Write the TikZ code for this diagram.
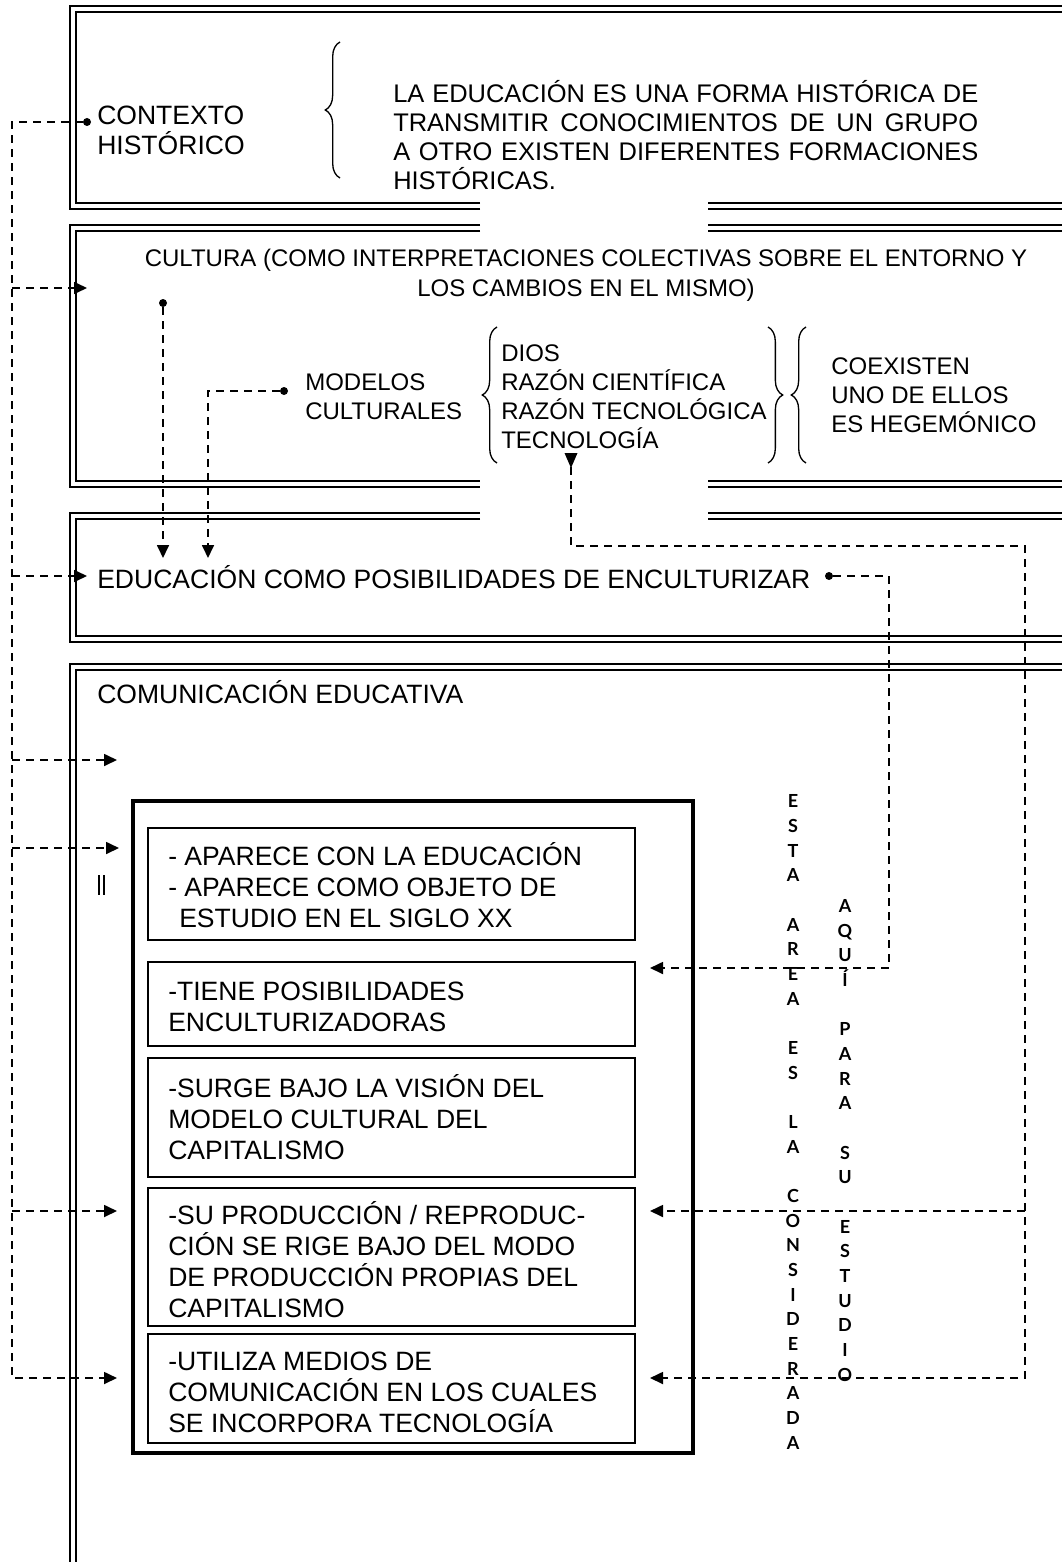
\documentclass[tikz,border=0pt]{standalone}
\usepackage{fontspec}
\setmainfont{Liberation Sans}
\newfontfamily\letterfont{Lato}
\usetikzlibrary{arrows.meta,decorations.pathreplacing}

\tikzset{
  dashline/.style={line width=1.3pt, dash pattern=on 6pt off 4.5pt},
  arrowto/.style={-{Triangle[length=9.75pt,width=9pt]}},
  dot/.style={circle, fill=black, inner sep=0pt, minimum size=6pt},
  frameout/.style={line width=1.05pt},
  framein/.style={line width=1.95pt},
  lbl/.style={font=\fontsize{18}{21.75}\selectfont, inner sep=0pt, align=left},
  biglbl/.style={font=\fontsize{19.9}{22.5}\selectfont, inner sep=0pt, align=left},
  deftxt/.style={font=\fontsize{19.1}{21.75}\selectfont, inner sep=0pt, align=left},
  itemtxt/.style={font=\fontsize{19.9}{23.25}\selectfont, inner sep=0pt, align=left},
  vtxt/.style={font=\letterfont\bfseries\fontsize{13.5}{18.5}\selectfont, inner sep=0pt, align=center},
  curly/.style={decorate, decoration={brace, amplitude=11pt}, line width=1pt},
}

\begin{document}
\begin{tikzpicture}[x=0.75pt,y=0.75pt,yscale=-1,xscale=1]
\useasboundingbox (0,0) rectangle (1062,1562);

%Shape: Frame 1 (contexto)
\draw [frameout] (480,209) -- (70,209) -- (70,6) -- (1075,6) ;
\draw [frameout] (708,209) -- (1075,209) ;
\draw [framein] (480,203) -- (76,203) -- (76,12) -- (1075,12) ;
\draw [framein] (708,203) -- (1075,203) ;
%Shape: Frame 2 (cultura)
\draw [frameout] (480,225) -- (70,225) -- (70,487) -- (480,487) ;
\draw [frameout] (708,225) -- (1075,225) (708,487) -- (1075,487) ;
\draw [framein] (480,231) -- (76,231) -- (76,481) -- (480,481) ;
\draw [framein] (708,231) -- (1075,231) (708,481) -- (1075,481) ;
%Shape: Frame 3 (educacion)
\draw [frameout] (480,513) -- (70,513) -- (70,642) -- (1075,642) ;
\draw [frameout] (708,513) -- (1075,513) ;
\draw [framein] (480,519) -- (76,519) -- (76,636) -- (1075,636) ;
\draw [framein] (708,519) -- (1075,519) ;
%Shape: Frame 4 (comunicacion)
\draw [frameout] (1075,664) -- (70,664) -- (70,1575) ;
\draw [framein] (1075,670) -- (76,670) -- (76,1575) ;
%Straight Lines (small mark)
\draw [line width=0.8pt] (99,875) -- (99,895) (104,875) -- (104,895) ;

%Shape: Rectangle (outer box)
\draw [line width=2.6pt] (133,801) rectangle (693,1453) ;
%Shape: Rectangles (items)
\foreach \ya/\yb in {828/940, 962/1046, 1058/1177, 1188/1326, 1334/1443}
  \draw [line width=1.5pt] (148,\ya) rectangle (635,\yb) ;

%Braces
\draw [curly] (340,178) -- (340,42) ;
\draw [curly] (497,463) -- (497,327) ;
\draw [curly] (768,327) -- (768,463) ;
\draw [curly] (806,463) -- (806,327) ;

% Text Node
\node [biglbl, anchor=base west] (ctx) at (97,155) {CONTEXTO\\HISTÓRICO};
% Text Node
\node [deftxt, anchor=base west] (defn) at (393,190) {\makebox[438.75pt][s]{LA EDUCACIÓN ES UNA FORMA HISTÓRICA DE}\\\makebox[438.75pt][s]{TRANSMITIR CONOCIMIENTOS DE UN GRUPO}\\\makebox[438.75pt][s]{A OTRO EXISTEN DIFERENTES FORMACIONES}\\HISTÓRICAS.};
% Text Node
\node [lbl, align=center, anchor=base] (cult) at (586,296) {CULTURA (COMO INTERPRETACIONES COLECTIVAS SOBRE EL ENTORNO Y\\LOS CAMBIOS EN EL MISMO)};
% Text Node
\node [lbl, anchor=base west] (mods) at (305,419) {MODELOS\\CULTURALES};
% Text Node
\node [lbl, anchor=base west] (tipos) at (501,448) {DIOS\\RAZÓN CIENTÍFICA\\RAZÓN TECNOLÓGICA\\TECNOLOGÍA};
% Text Node
\node [lbl, anchor=base west] (coex) at (831,432) {COEXISTEN\\UNO DE ELLOS\\ES HEGEMÓNICO};
% Text Node
\node [biglbl, anchor=base west] (edu) at (97,588) {EDUCACIÓN COMO POSIBILIDADES DE ENCULTURIZAR};
% Text Node
\node [biglbl, anchor=base west] (com) at (97,703) {COMUNICACIÓN EDUCATIVA};

% Text Node
\node [itemtxt, anchor=base west] (it1) at (168,927) {- APARECE CON LA EDUCACIÓN\\- APARECE COMO OBJETO DE\\\hspace*{8.25pt}ESTUDIO EN EL SIGLO XX};
% Text Node
\node [itemtxt, anchor=base west] (it2) at (168,1031) {-TIENE POSIBILIDADES\\ENCULTURIZADORAS};
% Text Node
\node [itemtxt, anchor=base west] (it3) at (168,1159) {-SURGE BAJO LA VISIÓN DEL\\MODELO CULTURAL DEL\\CAPITALISMO};
% Text Node
\node [itemtxt, anchor=base west] (it4) at (168,1317) {-SU PRODUCCIÓN / REPRODUC-\\CIÓN SE RIGE BAJO DEL MODO\\DE PRODUCCIÓN PROPIAS DEL\\CAPITALISMO};
% Text Node
\node [itemtxt, anchor=base west] (it5) at (168,1432) {-UTILIZA MEDIOS DE\\COMUNICACIÓN EN LOS CUALES\\SE INCORPORA TECNOLOGÍA};

% Text Node (vertical)
\node [vtxt, anchor=base] (esta) at (793,1449) {E\\S\\T\\A\\ \\A\\R\\E\\A\\ \\E\\S\\ \\L\\A\\ \\C\\O\\N\\S\\I\\D\\E\\R\\A\\D\\A};
% Text Node (vertical)
\node [vtxt, anchor=base] (aqui) at (845,1381) {A\\Q\\U\\Í\\ \\P\\A\\R\\A\\ \\S\\U\\ \\E\\S\\T\\U\\D\\I\\O};

%Dots
\node [dot] (ctxdot) at (87,122) {};
\node [dot] (cultdot) at (163,303) {};
\node [dot] (moddot) at (284,391) {};
\node [dot] (encdot) at (829,576) {};

%Ends of the connectors
\coordinate (spine) at (12,1378);
\coordinate (cultin) at (87,288);
\coordinate (eduin) at (87,576);
\coordinate (comin) at (117,760);
\coordinate (inA) at (119,848);
\coordinate (inD) at (117,1211);
\coordinate (inE) at (117,1378);
\coordinate (eduA) at (163,558);
\coordinate (eduB) at (208,558);
\coordinate (turnB) at (889,968);
\coordinate (outB) at (650,968);
\coordinate (tecarr) at (571,453);
\coordinate (tecfoot) at (571,467);
\coordinate (rtcorner) at (1025,546);
\coordinate (rtbot) at (1025,1378);
\coordinate (outD) at (650,1211);
\coordinate (outE) at (650,1378);

%Connectors left
\draw [dashline, arrowto] (ctxdot) -| (spine) -- (inE) ;
\foreach \p in {cultin, eduin, comin, inA, inD}
  \draw [dashline, arrowto] (spine |- \p) -- (\p) ;
\draw [dashline, arrowto] (cultdot) -- (eduA) ;
\draw [dashline, arrowto] (moddot) -| (eduB) ;
%Connectors right
\draw [dashline, arrowto] (encdot) -| (turnB) -- (outB) ;
\fill (tecarr) ++(-6.5,0) -- ++(13,0) -- ++(-6.5,15) -- cycle ;
\draw [dashline, arrowto] (tecfoot) |- (rtcorner) -- (rtbot) -- (outE) ;
\draw [dashline, arrowto] (rtcorner |- outD) -- (outD) ;

\end{tikzpicture}
\end{document}
